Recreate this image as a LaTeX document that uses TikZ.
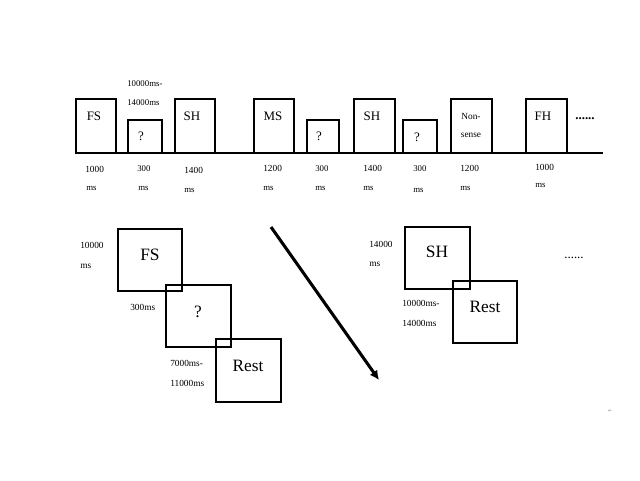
\documentclass[tikz,border=0pt]{standalone}
\usepackage{fontspec}
\setmainfont{Liberation Serif}
\newfontfamily\symfont{DejaVu Sans}
\usetikzlibrary{arrows.meta}
\begin{document}
\begin{tikzpicture}[x=0.75pt,y=-0.75pt,
  box/.style={draw=black,line width=1.1pt},
  base/.style={draw=black,line width=1.7pt},
  sm/.style={font=\fontsize{6.6}{7}\selectfont,inner sep=0pt,anchor=west},
  md/.style={font=\fontsize{7}{8}\selectfont,inner sep=0pt,anchor=west},
  lab/.style={font=\fontsize{9.7}{11}\selectfont,inner sep=0pt},
  big/.style={font=\fontsize{13}{15}\selectfont,inner sep=0pt},
  arr/.style={draw=black,line width=2.3pt,-{Latex[length=7pt,width=7pt]}}]
\useasboundingbox (0,0) rectangle (640,480);
% ---------- top timeline ----------
\coordinate (FSa) at (76,99);  \coordinate (FSb) at (116,153);
\coordinate (Q1a) at (128,120); \coordinate (Q1b) at (162,153);
\coordinate (SHa) at (175,99); \coordinate (SHb) at (215,153);
\coordinate (MSa) at (254,99); \coordinate (MSb) at (294,153);
\coordinate (Q2a) at (307,120); \coordinate (Q2b) at (339,153);
\coordinate (SH2a) at (354,99); \coordinate (SH2b) at (395,153);
\coordinate (Q3a) at (403,120); \coordinate (Q3b) at (437,153);
\coordinate (NSa) at (451,99); \coordinate (NSb) at (492,153);
\coordinate (FHa) at (526,99); \coordinate (FHb) at (567,153);
\foreach \b in {FS,Q1,SH,MS,Q2,SH2,Q3,NS,FH}{\draw[box] (\b a) rectangle (\b b);}
\coordinate (L0) at (75,153); \coordinate (L1) at (603,153);
\draw[base] (L0) -- (L1);
\node[lab] (tFS) at (94,116) {FS};
\node[lab] (tQ1) at (141,136) {?};
\node[lab] (tSH) at (192,116) {SH};
\node[lab] (tMS) at (273,116) {MS};
\node[lab] (tQ2) at (319,136) {?};
\node[lab] (tSH2) at (372,116) {SH};
\node[lab] (tQ3) at (417,137) {?};
\node[font=\fontsize{7}{8}\selectfont,inner sep=0pt] (tNon) at (471,116) {Non-};
\node[font=\fontsize{7}{8}\selectfont,inner sep=0pt] (tsense) at (471,135) {sense};
\node[lab] (tFH) at (543,116) {FH};
\node[lab,anchor=base] (tdots) at (585,119) {\textbf{......}};
\node[sm] (r1) at (127,84) {10000ms-};
\node[sm] (r2) at (127,103) {14000ms};
% durations
\node[md] (d1) at (85,169) {1000};  \node[sm] (d1m) at (86,188) {ms};
\node[sm] (d2) at (137,169) {300};  \node[sm] (d2m) at (138,188) {ms};
\node[md] (d3) at (184,170) {1400}; \node[sm] (d3m) at (184,190) {ms};
\node[md] (d4) at (263,168) {1200}; \node[sm] (d4m) at (263,188) {ms};
\node[sm] (d5) at (315,169) {300};  \node[sm] (d5m) at (315,188) {ms};
\node[md] (d6) at (363,168) {1400}; \node[sm] (d6m) at (363,188) {ms};
\node[sm] (d7) at (413,169) {300};  \node[sm] (d7m) at (413,190) {ms};
\node[md] (d8) at (460,168) {1200}; \node[sm] (d8m) at (460,188) {ms};
\node[md] (d9) at (535,167) {1000}; \node[sm] (d9m) at (535,185) {ms};
% ---------- bottom left ----------
\coordinate (BFa) at (118,229); \coordinate (BFb) at (182,291);
\coordinate (BQa) at (166,285); \coordinate (BQb) at (231,347);
\coordinate (BRa) at (216,339); \coordinate (BRb) at (281,402);
\foreach \b in {BF,BQ,BR}{\draw[box] (\b a) rectangle (\b b);}
\node[big] (bFS) at (150,255) {FS};
\node[big] (bQ) at (198,312) {?};
\node[big] (bR) at (248,366) {Rest};
\node[md] (e1) at (80,245) {10000}; \node[md] (e1m) at (80,266) {ms};
\node[md] (e2) at (130,307) {300ms};
\node[md] (e3) at (170,363) {7000ms-};
\node[md] (e4) at (170,383) {11000ms};
% arrow
\coordinate (A0) at (271,227); \coordinate (A1) at (379,380);
\draw[arr] (A0) -- (A1);
% ---------- bottom right ----------
\coordinate (CSa) at (405,227); \coordinate (CSb) at (470,289);
\coordinate (CRa) at (453,281); \coordinate (CRb) at (517,343);
\foreach \b in {CS,CR}{\draw[box] (\b a) rectangle (\b b);}
\node[big] (cSH) at (437,252) {SH};
\node[big] (cR) at (485,307) {Rest};
\node[md] (f1) at (369,244) {14000}; \node[md] (f1m) at (369,264) {ms};
\node[md] (f2) at (402,303) {10000ms-};
\node[md] (f3) at (402,323) {14000ms};
\node[lab,anchor=base] (cdots) at (574,258) {......};
\node[font=\symfont\fontsize{3.5}{4}\selectfont,text=gray,inner sep=0pt] (ret) at (610,411) {↵};
\end{tikzpicture}
\end{document}
